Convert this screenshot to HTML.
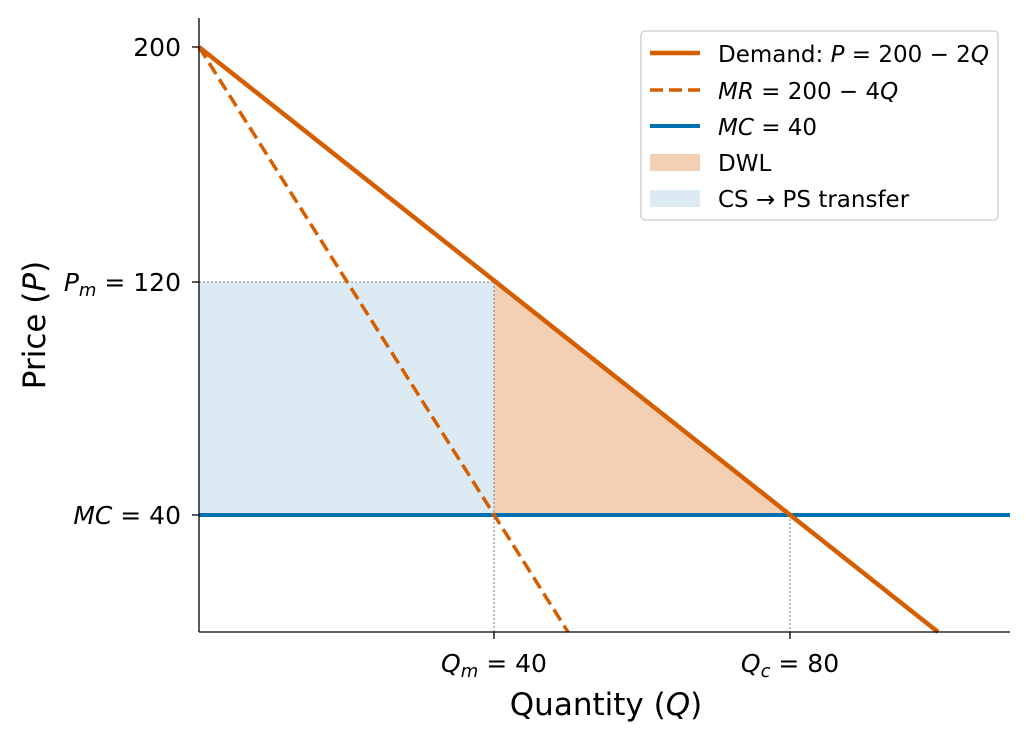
<!DOCTYPE html>
<html><head><meta charset="utf-8"><style>body{margin:0;background:#fff}</style></head><body>
<svg width="1030" height="744" xmlns="http://www.w3.org/2000/svg" font-family="DejaVu Sans, sans-serif">
<rect width="1030" height="744" fill="#fff"/>
<polygon points="199,282 494,282 494,515 199,515" fill="#dbeaf3"/>
<polygon points="494,282 790,515 494,515" fill="#f3cfb3"/>
<g stroke="#999" stroke-width="1.3" stroke-dasharray="2,2" fill="none">
<line x1="199" y1="282" x2="494" y2="282"/>
<line x1="494" y1="282" x2="494" y2="632"/>
<line x1="790" y1="515" x2="790" y2="632"/>
</g>
<line x1="199" y1="515" x2="1010" y2="515" stroke="#0072b2" stroke-width="4"/>
<line x1="199" y1="47" x2="568" y2="632" stroke="#d55e00" stroke-width="3.5" stroke-dasharray="13,6"/>
<line x1="199" y1="47" x2="938" y2="632" stroke="#d55e00" stroke-width="4.5"/>
<g stroke="#000" stroke-width="1.3">
<line x1="199" y1="18" x2="199" y2="632"/>
<line x1="199" y1="632" x2="1010" y2="632"/>
<line x1="192" y1="47" x2="199" y2="47"/><line x1="192" y1="282" x2="199" y2="282"/><line x1="192" y1="515" x2="199" y2="515"/>
<line x1="494" y1="632" x2="494" y2="639"/><line x1="790" y1="632" x2="790" y2="639"/>
</g>
<g font-size="25" fill="#000" text-anchor="end" xml:space="preserve">
<text x="181" y="56">200</text>
<text x="181" y="291"><tspan font-style="italic">P</tspan><tspan font-size="18" dy="5" font-style="italic">m</tspan><tspan dy="-5"> = 120</tspan></text>
<text x="181" y="524"><tspan font-style="italic">MC</tspan> = 40</text>
</g>
<g font-size="25" fill="#000" text-anchor="middle" xml:space="preserve">
<text x="494" y="672"><tspan font-style="italic">Q</tspan><tspan font-size="18" dy="5" font-style="italic">m</tspan><tspan dy="-5"> = 40</tspan></text>
<text x="790" y="672"><tspan font-style="italic">Q</tspan><tspan font-size="18" dy="5" font-style="italic">c</tspan><tspan dy="-5"> = 80</tspan></text>
<text x="606" y="715" font-size="31">Quantity (<tspan font-style="italic">Q</tspan>)</text>
<text transform="translate(45,325) rotate(-90)" font-size="31">Price (<tspan font-style="italic">P</tspan>)</text>
</g>
<rect x="641" y="31" width="357" height="189" rx="4" fill="#fff" fill-opacity="0.85" stroke="#ccc" stroke-width="1.3"/>
<line x1="650" y1="53" x2="700" y2="53" stroke="#d55e00" stroke-width="4.5"/>
<line x1="650" y1="90" x2="700" y2="90" stroke="#d55e00" stroke-width="3.5" stroke-dasharray="13,6"/>
<line x1="650" y1="126" x2="700" y2="126" stroke="#0072b2" stroke-width="4"/>
<rect x="650" y="154" width="50" height="17" fill="#f3cfb3"/>
<rect x="650" y="190" width="50" height="17" fill="#dbeaf3"/>
<g font-size="23" fill="#000" xml:space="preserve">
<text x="718" y="62">Demand: <tspan font-style="italic">P</tspan> = 200 − 2<tspan font-style="italic">Q</tspan></text>
<text x="718" y="99"><tspan font-style="italic">MR</tspan> = 200 − 4<tspan font-style="italic">Q</tspan></text>
<text x="718" y="135"><tspan font-style="italic">MC</tspan> = 40</text>
<text x="718" y="171">DWL</text>
<text x="718" y="207">CS → PS transfer</text>
</g>
</svg>
</body></html>
